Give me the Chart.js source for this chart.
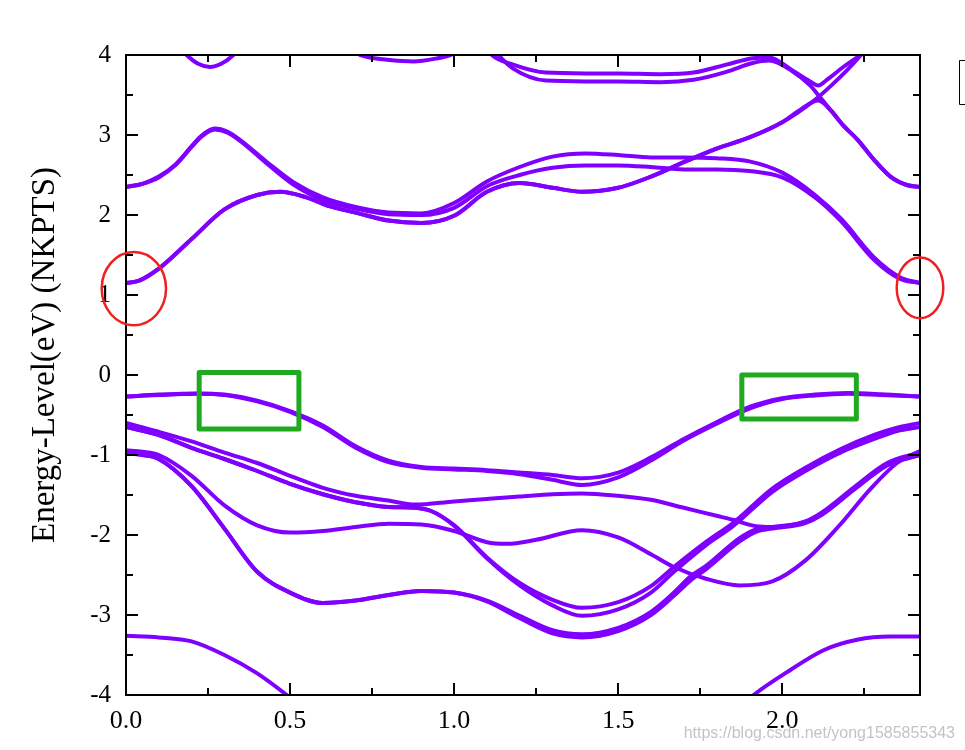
<!DOCTYPE html>
<html><head><meta charset="utf-8">
<script src="https://cdn.jsdelivr.net/npm/chart.js@4.4.1/dist/chart.umd.min.js"></script>
<style>html,body{margin:0;padding:0;background:#fff;}canvas{display:block;}</style>
</head><body>
<canvas id="c" width="965" height="750"></canvas>
<script>
// ---- axis data ----
const K_MIN = 0, K_MAX = 2.42, E_MIN = -4, E_MAX = 4;
const X_TICKS = [0, 0.5, 1.0, 1.5, 2.0];
const X_MINOR = [0.25, 0.75, 1.25, 1.75, 2.25];
const Y_TICKS = [-4, -3, -2, -1, 0, 1, 2, 3, 4];
const Y_MINOR = [-3.5, -2.5, -1.5, -0.5, 0.5, 1.5, 2.5, 3.5];
const Y_TITLE = 'Energy-Level(eV) (NKPTS)';
const WATERMARK = 'https://blog.csdn.net/yong1585855343';

// ---- bands: [k, E] ----
const cA1 = [[0,2.35],[0.05,2.39],[0.1,2.48],[0.15,2.63],[0.2,2.86],[0.23,2.99],[0.27,3.08],[0.31,3.04],[0.35,2.93],[0.43,2.66],[0.51,2.41],[0.6,2.22],[0.7,2.10],[0.8,2.03],[0.9,2.02],[1.0,2.15],[1.1,2.42],[1.2,2.60],[1.3,2.73],[1.4,2.77],[1.5,2.75],[1.6,2.72],[1.7,2.72],[1.8,2.71],[1.9,2.67],[2.0,2.53],[2.1,2.25],[2.18,1.95],[2.28,1.47],[2.36,1.22],[2.42,1.15]];
const cA2 = [[0,2.35],[0.05,2.39],[0.1,2.47],[0.15,2.62],[0.2,2.85],[0.23,2.98],[0.27,3.07],[0.31,3.03],[0.35,2.92],[0.43,2.64],[0.51,2.38],[0.6,2.19],[0.7,2.08],[0.8,2.01],[0.9,2.0],[1.0,2.09],[1.1,2.36],[1.2,2.50],[1.3,2.59],[1.4,2.62],[1.5,2.62],[1.6,2.60],[1.7,2.57],[1.8,2.57],[1.9,2.55],[2.0,2.47],[2.1,2.22],[2.18,1.92],[2.28,1.44],[2.36,1.20],[2.42,1.15]];
const cB1 = [[0,1.15],[0.04,1.18],[0.1,1.33],[0.2,1.70],[0.3,2.07],[0.4,2.25],[0.47,2.29],[0.55,2.22],[0.62,2.11],[0.7,2.03],[0.8,1.93],[0.9,1.90],[1.0,1.99],[1.1,2.29],[1.2,2.40],[1.3,2.34],[1.39,2.29],[1.5,2.34],[1.6,2.48],[1.7,2.66],[1.8,2.83],[1.9,2.97],[2.0,3.16],[2.1,3.44],[2.15,3.62],[2.2,3.82],[2.24,4.0],[2.27,4.15]];
const cB2 = [[0,1.15],[0.04,1.18],[0.1,1.33],[0.2,1.70],[0.3,2.07],[0.4,2.25],[0.47,2.29],[0.55,2.22],[0.62,2.11],[0.7,2.03],[0.8,1.93],[0.9,1.90],[1.0,1.99],[1.1,2.29],[1.2,2.40],[1.3,2.34],[1.39,2.29],[1.5,2.34],[1.6,2.48],[1.7,2.66],[1.8,2.83],[1.9,2.97],[2.0,3.16],[2.06,3.33],[2.11,3.43],[2.15,3.30],[2.186,3.12],[2.23,2.94],[2.28,2.69],[2.33,2.48],[2.38,2.375],[2.42,2.35]];
const up1 = [[1.10,4.08],[1.115,4.0],[1.18,3.88],[1.28,3.78],[1.4,3.77],[1.5,3.77],[1.63,3.76],[1.73,3.78],[1.83,3.88],[1.91,3.96],[1.96,3.97],[2.03,3.81],[2.085,3.67],[2.11,3.62],[2.136,3.69],[2.186,3.85],[2.238,4.0],[2.26,4.08]];
const up2 = [[1.12,4.08],[1.135,4.0],[1.18,3.83],[1.28,3.68],[1.4,3.67],[1.5,3.67],[1.63,3.66],[1.73,3.69],[1.83,3.79],[1.91,3.90],[1.96,3.93],[2.03,3.80],[2.085,3.62],[2.11,3.50],[2.15,3.30],[2.186,3.12],[2.23,2.94],[2.28,2.69],[2.33,2.48],[2.38,2.375],[2.42,2.35]];
const u0 = [[0.16,4.12],[0.185,4.0],[0.22,3.89],[0.256,3.85],[0.29,3.89],[0.327,4.0],[0.35,4.12]];
const u0b = [[0.69,4.06],[0.713,4.0],[0.774,3.95],[0.876,3.92],[0.95,3.96],[0.99,4.0],[1.01,4.06]];

const vb1a = [[0,-0.27],[0.1,-0.245],[0.22,-0.23],[0.3,-0.245],[0.4,-0.32],[0.5,-0.45],[0.6,-0.63],[0.7,-0.89],[0.8,-1.07],[0.9,-1.15],[1.0,-1.17],[1.1,-1.19],[1.2,-1.22],[1.3,-1.25],[1.39,-1.29],[1.5,-1.22],[1.6,-1.03],[1.7,-0.80],[1.8,-0.59],[1.9,-0.40],[2.0,-0.29],[2.1,-0.245],[2.2,-0.225],[2.3,-0.24],[2.42,-0.27]];
const vb1b = [[0,-0.27],[0.1,-0.25],[0.22,-0.235],[0.3,-0.25],[0.4,-0.33],[0.5,-0.46],[0.6,-0.65],[0.7,-0.91],[0.8,-1.09],[0.9,-1.16],[1.0,-1.18],[1.1,-1.2],[1.2,-1.24],[1.3,-1.31],[1.39,-1.375],[1.5,-1.28],[1.6,-1.07],[1.7,-0.82],[1.8,-0.61],[1.9,-0.42],[2.0,-0.30],[2.1,-0.255],[2.2,-0.235],[2.3,-0.25],[2.42,-0.27]];
const v2a = [[0,-0.60],[0.1,-0.71],[0.2,-0.83],[0.3,-0.97],[0.4,-1.10],[0.5,-1.26],[0.6,-1.41],[0.7,-1.51],[0.8,-1.57],[0.88,-1.62],[1.0,-1.58],[1.1,-1.55],[1.2,-1.52],[1.3,-1.49],[1.39,-1.48],[1.5,-1.51],[1.6,-1.56],[1.7,-1.66],[1.8,-1.76],[1.85,-1.81],[1.92,-1.89],[1.97,-1.90],[2.07,-1.83],[2.12,-1.72],[2.22,-1.40],[2.32,-1.10],[2.42,-0.97]];
const v2b = [[0,-0.65],[0.1,-0.75],[0.2,-0.91],[0.3,-1.05],[0.4,-1.20],[0.5,-1.36],[0.6,-1.49],[0.7,-1.59],[0.8,-1.65],[0.88,-1.66],[0.93,-1.70],[1.0,-1.88],[1.1,-2.28],[1.2,-2.60],[1.3,-2.81],[1.39,-2.91],[1.5,-2.84],[1.6,-2.64],[1.67,-2.40],[1.77,-2.08],[1.85,-1.85],[1.97,-1.42],[2.075,-1.15],[2.177,-0.93],[2.28,-0.75],[2.35,-0.66],[2.42,-0.60]];
const v2c = [[0,-0.65],[0.1,-0.75],[0.2,-0.91],[0.3,-1.05],[0.4,-1.20],[0.5,-1.36],[0.6,-1.49],[0.7,-1.59],[0.8,-1.65],[0.88,-1.66],[0.93,-1.70],[1.0,-1.88],[1.1,-2.29],[1.2,-2.63],[1.3,-2.88],[1.39,-3.01],[1.5,-2.93],[1.6,-2.72],[1.67,-2.46],[1.77,-2.12],[1.85,-1.89],[1.97,-1.46],[2.075,-1.19],[2.177,-0.97],[2.28,-0.80],[2.35,-0.70],[2.42,-0.65]];
const v3a = [[0,-0.94],[0.05,-0.96],[0.1,-1.00],[0.2,-1.26],[0.3,-1.63],[0.4,-1.88],[0.5,-1.97],[0.6,-1.95],[0.7,-1.90],[0.8,-1.86],[0.9,-1.87],[1.0,-1.95],[1.1,-2.09],[1.16,-2.11],[1.25,-2.06],[1.39,-1.94],[1.5,-2.03],[1.6,-2.24],[1.67,-2.40],[1.77,-2.55],[1.87,-2.63],[1.97,-2.58],[2.07,-2.32],[2.17,-1.90],[2.27,-1.42],[2.35,-1.10],[2.42,-0.95]];
const v3b = [[0,-0.98],[0.05,-1.0],[0.1,-1.05],[0.2,-1.39],[0.3,-1.92],[0.4,-2.46],[0.5,-2.72],[0.6,-2.85],[0.7,-2.82],[0.8,-2.75],[0.9,-2.70],[1.0,-2.72],[1.1,-2.82],[1.2,-3.01],[1.3,-3.19],[1.39,-3.24],[1.5,-3.16],[1.6,-2.96],[1.67,-2.72],[1.72,-2.52],[1.77,-2.38],[1.87,-2.04],[1.92,-1.93],[1.97,-1.90],[2.07,-1.84],[2.12,-1.74],[2.22,-1.42],[2.32,-1.12],[2.42,-1.00]];
const v3c = [[0,-0.98],[0.05,-1.0],[0.1,-1.05],[0.2,-1.39],[0.3,-1.92],[0.4,-2.46],[0.5,-2.72],[0.6,-2.85],[0.7,-2.82],[0.8,-2.75],[0.9,-2.70],[1.0,-2.72],[1.1,-2.83],[1.2,-3.04],[1.3,-3.23],[1.39,-3.28],[1.5,-3.20],[1.6,-3.00],[1.67,-2.76],[1.72,-2.57],[1.77,-2.42],[1.87,-2.08],[1.92,-1.96],[1.97,-1.92],[2.07,-1.85],[2.12,-1.75],[2.22,-1.43],[2.32,-1.13],[2.42,-1.00]];
const v4 = [[0,-3.26],[0.1,-3.28],[0.2,-3.33],[0.3,-3.5],[0.4,-3.73],[0.49,-4.0],[0.52,-4.1]];
const v4r = [[1.88,-4.12],[1.913,-4.0],[2.024,-3.69],[2.126,-3.44],[2.228,-3.31],[2.33,-3.27],[2.42,-3.27]];

const BANDS = [cA1, cA2, cB1, cB2, up1, up2, u0, u0b, vb1a, vb1b, v2a, v2b, v2c, v3a, v3b, v3c, v4, v4r];

// ---- hand-drawn annotations (data units) ----
const RED_ELLIPSES = [[0.024, 1.08, 0.098, 0.458], [2.42, 1.09, 0.071, 0.38]]; // cx, cy, rx, ry
const GREEN_BOXES = [[0.223, 0.031, 0.527, -0.675], [1.877, 0.0, 2.226, -0.55]]; // x1, y1, x2, y2

const PURPLE = '#8000ff';

const framePlugin = {
  id: 'frame',
  afterDatasetsDraw(chart) {
    const {ctx, chartArea: a, scales: {x, y}} = chart;
    ctx.save();
    ctx.strokeStyle = '#000';
    ctx.lineWidth = 2;
    ctx.strokeRect(a.left, a.top, a.right - a.left, a.bottom - a.top);
    ctx.beginPath();
    const tickX = (vals, len) => vals.forEach(v => {
      const px = Math.round(x.getPixelForValue(v));
      ctx.moveTo(px, a.bottom); ctx.lineTo(px, a.bottom - len);
      ctx.moveTo(px, a.top); ctx.lineTo(px, a.top + len);
    });
    const tickY = (vals, len) => vals.forEach(v => {
      const py = Math.round(y.getPixelForValue(v));
      ctx.moveTo(a.left, py); ctx.lineTo(a.left + len, py);
      ctx.moveTo(a.right, py); ctx.lineTo(a.right - len, py);
    });
    tickX(X_TICKS, 12); tickX(X_MINOR, 7);
    tickY(Y_TICKS, 12); tickY(Y_MINOR, 7);
    ctx.stroke();
    ctx.restore();
  },
  afterDraw(chart) {
    const {ctx, chartArea: a, scales: {x, y}} = chart;
    ctx.save();
    // y title
    ctx.save();
    ctx.translate(45, 355);
    ctx.rotate(-Math.PI / 2);
    ctx.font = '33px "Liberation Serif", "Times New Roman", serif';
    ctx.fillStyle = '#000';
    ctx.textAlign = 'center';
    ctx.textBaseline = 'middle';
    ctx.fillText(Y_TITLE, 0, 0);
    ctx.restore();
    // green boxes
    ctx.strokeStyle = '#1faa1f';
    ctx.lineWidth = 5;
    ctx.lineJoin = 'round';
    GREEN_BOXES.forEach(([x1, y1, x2, y2]) => {
      const X1 = x.getPixelForValue(x1), X2 = x.getPixelForValue(x2);
      const Y1 = y.getPixelForValue(y1), Y2 = y.getPixelForValue(y2);
      ctx.strokeRect(X1, Y1, X2 - X1, Y2 - Y1);
    });
    // red ellipses
    ctx.strokeStyle = '#ee2020';
    ctx.lineWidth = 2.5;
    RED_ELLIPSES.forEach(([cx, cy, rx, ry]) => {
      const CX = x.getPixelForValue(cx), CY = y.getPixelForValue(cy);
      const RX = Math.abs(x.getPixelForValue(cx + rx) - CX);
      const RY = Math.abs(y.getPixelForValue(cy + ry) - CY);
      ctx.beginPath();
      ctx.ellipse(CX, CY, RX, RY, 0, 0, Math.PI * 2);
      ctx.stroke();
    });
    // cut-off legend frame
    ctx.strokeStyle = '#000';
    ctx.lineWidth = 1;
    ctx.strokeRect(959.5, 60.5, 40, 44);
    // watermark
    ctx.font = '16px "Liberation Sans", Arial, sans-serif';
    ctx.fillStyle = 'rgba(185,185,185,0.85)';
    ctx.textAlign = 'right';
    ctx.textBaseline = 'alphabetic';
    ctx.fillText(WATERMARK, 955, 738);
    ctx.restore();
  }
};

new Chart(document.getElementById('c'), {
  type: 'line',
  data: {
    datasets: BANDS.map(b => ({
      data: b.map(([k, e]) => ({x: k, y: e})),
      borderColor: PURPLE,
      borderWidth: 4,
      pointRadius: 0,
      cubicInterpolationMode: 'monotone',
      fill: false,
      clip: 0
    }))
  },
  options: {
    responsive: false,
    animation: false,
    devicePixelRatio: 1,
    layout: {padding: {top: 55, right: 45, left: 0, bottom: 0}},
    plugins: {legend: {display: false}, tooltip: {enabled: false}},
    scales: {
      x: {
        type: 'linear', min: K_MIN, max: K_MAX,
        afterBuildTicks: s => { s.ticks = X_TICKS.map(v => ({value: v})); },
        afterFit: s => { s.height = 55; },
        grid: {display: false, drawTicks: false},
        border: {display: false},
        ticks: {
          padding: 11, color: '#000',
          font: {family: '"Liberation Serif", "Times New Roman", serif', size: 26},
          callback: v => Number(v).toFixed(1)
        }
      },
      y: {
        type: 'linear', min: E_MIN, max: E_MAX,
        afterBuildTicks: s => { s.ticks = Y_TICKS.map(v => ({value: v})); },
        afterFit: s => { s.width = 126; },
        grid: {display: false, drawTicks: false},
        border: {display: false},
        ticks: {
          padding: 15, color: '#000',
          font: {family: '"Liberation Serif", "Times New Roman", serif', size: 25},
          callback: v => String(v)
        }
      }
    }
  },
  plugins: [framePlugin]
});
</script>
</body></html>
